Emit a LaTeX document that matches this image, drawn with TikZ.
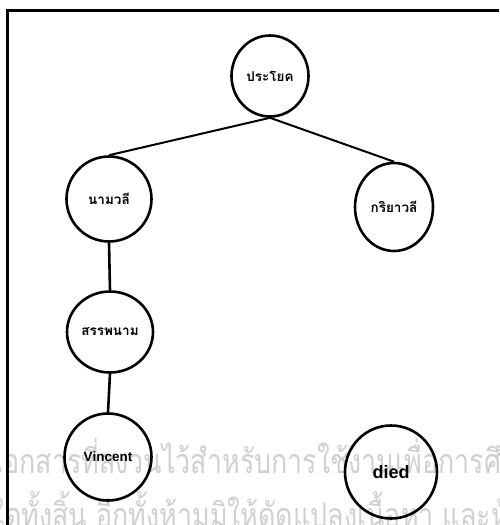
\documentclass[tikz,border=0pt]{standalone}
\usepackage{fontspec}
\setmainfont{Liberation Sans}
\newfontfamily\thaifont[Script=Thai]{Loma}
\newfontfamily\thaimark[Script=Thai, FakeStretch=0.79]{Loma}
\usetikzlibrary{shapes.geometric}

\begin{document}
\begin{tikzpicture}[x=1pt, y=-1pt,
    treenode/.style={ellipse, draw, line width=2.6pt, inner sep=0pt},
    thailabel/.style={font=\thaifont\bfseries\fontsize{13.5}{13.5}\selectfont},
    treeedge/.style={line width=2pt}]
    \definecolor{wmgray}{RGB}{208,208,208}
    \useasboundingbox (0,0) rectangle (499,525);
    \clip (0,0) rectangle (499,525);
    % watermark lines
    \node[anchor=base west, inner sep=0pt, text=wmgray,
        font=\thaimark\fontsize{34}{34}\selectfont] (wmone) at (-6,473)
        {เอกสารที่สงวนไว้สำหรับการใช้งานเพื่อการศึกษาเท่านั้น};
    \node[anchor=base west, inner sep=0pt, text=wmgray,
        font=\thaimark\fontsize{34}{34}\selectfont] (wmtwo) at (-9,527)
        {ใดทั้งสิ้น อีกทั้งห้ามมิให้ดัดแปลงเนื้อหา และห้ามเผยแพร่};
    % frame
    \draw[line width=3pt] (7,545) -- (7,10) -- (520,10);
    % tree nodes
    \node[treenode, thailabel, minimum width=77pt, minimum height=81pt] (sent) at (270,76) {ประโยค};
    \node[treenode, thailabel, minimum width=85pt, minimum height=85pt] (np) at (109,199) {นามวลี};
    \node[treenode, thailabel, minimum width=78pt, minimum height=88pt] (vp) at (394,207) {กริยาวลี};
    \node[treenode, thailabel, minimum width=86pt, minimum height=81pt] (pron) at (110,332) {สรรพนาม};
    \node[treenode, font=\bfseries\fontsize{13.5}{13.5}\selectfont,
        minimum width=87pt, minimum height=87pt] (vin) at (108,457) {Vincent};
    \node[treenode, font=\bfseries\fontsize{18}{18}\selectfont,
        minimum width=92pt, minimum height=93pt] (died) at (391,472) {died};
    % connectors
    \draw[treeedge] (sent.south) -- (np.north);
    \draw[treeedge] (sent.south) -- (vp.north);
    \draw[treeedge, line width=2.6pt] (np.south) -- (pron.north);
    \draw[treeedge, line width=2.6pt] (pron.south) -- (vin.north);
\end{tikzpicture}
\end{document}
